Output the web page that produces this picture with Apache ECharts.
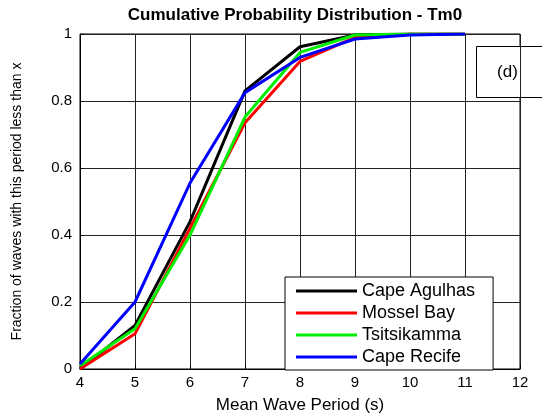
<!DOCTYPE html>
<html><head><meta charset="utf-8">
<script src="https://cdn.jsdelivr.net/npm/echarts@6/dist/echarts.min.js"></script>
<style>html,body{margin:0;padding:0;background:#fff}#c{width:542px;height:415px}</style>
</head><body><div id="c"></div>
<script>
const periods = [4, 5, 6, 7, 8, 9, 10, 11];
const capeAgulhas = [0.0, 0.13, 0.44, 0.83, 0.962, 0.997, 1.0, 1.0];
const mosselBay   = [0.0, 0.105, 0.42, 0.735, 0.918, 0.99, 1.0, 1.0];
const tsitsikamma = [0.01, 0.12, 0.40, 0.752, 0.945, 0.997, 1.0, 1.0];
const capeRecife  = [0.015, 0.20, 0.555, 0.825, 0.93, 0.985, 0.997, 1.0];
const seriesNames = ['Cape Agulhas', 'Mossel Bay', 'Tsitsikamma', 'Cape Recife'];
const seriesColors = ['#000000', '#ff0000', '#00ee00', '#0000ff'];
const seriesData = [capeAgulhas, mosselBay, tsitsikamma, capeRecife];

const chart = echarts.init(document.getElementById('c'), null, {renderer: 'canvas'});
const font = 'Liberation Sans, Arial, sans-serif';
chart.setOption({
  animation: false,
  backgroundColor: '#fff',
  title: {
    text: 'Cumulative Probability Distribution - Tm0',
    left: 290, top: 2, textAlign: 'center',
    textStyle: {fontFamily: font, fontSize: 17, fontWeight: 'bold', color: '#000'}
  },
  grid: {left: 80, right: 22, top: 34, bottom: 46, show: true, borderColor: '#000', borderWidth: 1,
    containLabel: false, outerBoundsMode: 'none'},
  xAxis: {
    type: 'value', min: 4, max: 12, interval: 1,
    name: 'Mean Wave Period (s)', nameLocation: 'middle', nameGap: 28,
    nameTextStyle: {fontFamily: font, fontSize: 17, color: '#000'},
    axisLine: {lineStyle: {color: '#000'}},
    axisTick: {inside: true, length: 4, lineStyle: {color: '#000'}},
    axisLabel: {fontFamily: font, fontSize: 15, color: '#000', margin: 6},
    splitLine: {show: true, lineStyle: {color: '#222', width: 1}}
  },
  yAxis: {
    type: 'value', min: 0, max: 1, interval: 0.2,
    name: 'Fraction of waves with this period less than x', nameLocation: 'middle', nameGap: 56,
    nameTextStyle: {fontFamily: font, fontSize: 14, color: '#000'},
    axisLine: {lineStyle: {color: '#000'}},
    axisTick: {inside: true, length: 4, lineStyle: {color: '#000'}},
    axisLabel: {fontFamily: font, fontSize: 15, color: '#000', margin: 8,
      formatter: v => String(Math.round(v * 10) / 10)},
    splitLine: {show: true, lineStyle: {color: '#222', width: 1}}
  },
  legend: {
    orient: 'vertical', left: 285, top: 277,
    backgroundColor: '#fff', borderColor: '#000', borderWidth: 1,
    padding: [5, 18, 4, 11], itemGap: 4, itemWidth: 61, itemHeight: 3,
    icon: 'rect',
    textStyle: {fontFamily: font, fontSize: 18, color: '#000', lineHeight: 17},
    data: seriesNames
  },
  graphic: [{
    type: 'group', left: 476, top: 46,
    children: [
      {type: 'rect', shape: {x: 0, y: 0, width: 80, height: 51},
       style: {fill: '#fff', stroke: '#000', lineWidth: 1}},
      {type: 'text', x: 31, y: 26, style: {text: '(d)', fontFamily: font, fontSize: 17,
       fill: '#000', textAlign: 'center', textVerticalAlign: 'middle'}}
    ]
  }],
  series: seriesNames.map((n, i) => ({
    name: n, type: 'line', symbol: 'none', color: seriesColors[i],
    lineStyle: {width: 3, color: seriesColors[i]},
    data: periods.map((p, j) => [p, seriesData[i][j]])
  }))
});
</script></body></html>
